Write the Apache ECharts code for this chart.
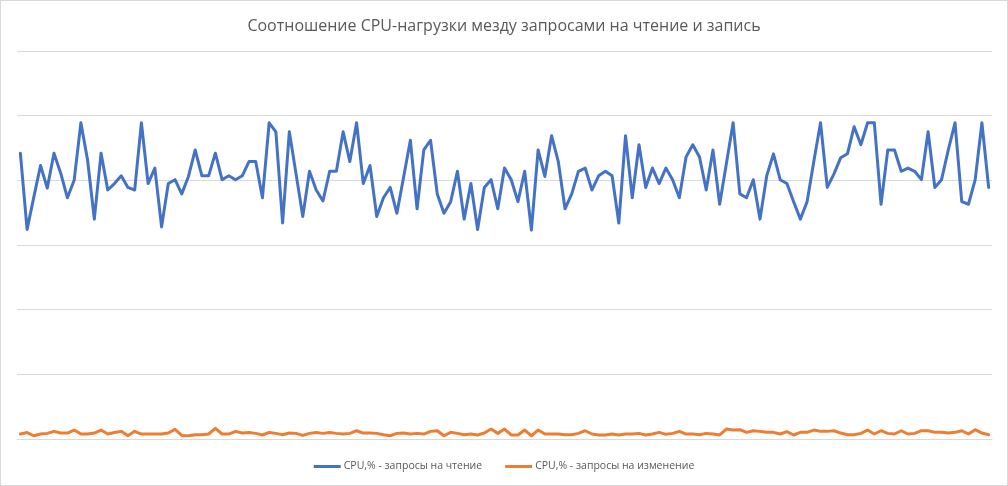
<!DOCTYPE html>
<html>
<head>
<meta charset="utf-8">
<script src="https://cdn.jsdelivr.net/npm/echarts@6/dist/echarts.min.js"></script>
<style>
  html, body { margin: 0; padding: 0; background: #fff; }
  #chart { width: 1008px; height: 486px; box-sizing: border-box; border: 1px solid #d9d9d9; }
</style>
</head>
<body>
<div id="chart"></div>
<script>
const titleText = 'Соотношение CPU-нагрузки мезду запросами на чтение и запись';
const seriesNames = ['CPU,% - запросы на чтение', 'CPU,% - запросы на изменение'];

const readCpu = [
  44.2, 32.4, 37.4, 42.3, 38.8, 44.2, 41.1, 37.3, 40.0, 48.9,
  43.1, 34.0, 44.2, 38.5, 39.5, 40.7, 38.9, 38.5, 48.9, 39.5,
  41.9, 32.8, 39.5, 40.1, 37.9, 40.6, 44.7, 40.7, 40.7, 44.2,
  40.1, 40.7, 40.1, 40.7, 42.9, 42.9, 37.3, 48.9, 47.5, 33.4,
  47.5, 41.0, 34.4, 41.4, 38.5, 36.8, 41.4, 41.4, 47.5, 42.9,
  48.9, 39.5, 42.3, 34.4, 37.3, 38.9, 34.9, 40.5, 46.2, 35.6,
  44.7, 46.2, 37.9, 34.9, 36.7, 41.4, 34.0, 39.5, 32.4, 38.9,
  40.1, 35.6, 41.9, 40.1, 36.7, 41.4, 32.3, 44.7, 40.6, 46.9,
  42.9, 35.6, 37.9, 41.4, 41.9, 38.5, 40.7, 41.4, 40.7, 33.4,
  46.9, 37.3, 45.5, 38.9, 41.9, 39.5, 41.9, 40.1, 37.3, 43.6,
  45.5, 43.6, 38.5, 44.7, 36.3, 42.6, 48.9, 37.9, 37.3, 40.1,
  34.0, 40.7, 44.1, 40.1, 39.5, 36.7, 34.0, 36.7, 42.9, 48.9,
  38.9, 41.0, 43.5, 44.1, 48.3, 45.5, 48.9, 48.9, 36.3, 44.7,
  44.7, 41.4, 41.9, 41.4, 40.1, 47.5, 38.9, 40.1, 44.7, 48.9,
  36.7, 36.3, 40.1, 48.9, 38.9
];

const writeCpu = [
  0.77, 1.00, 0.50, 0.77, 0.87, 1.18, 0.92, 0.92, 1.38, 0.77,
  0.77, 0.92, 1.38, 0.77, 1.00, 1.18, 0.50, 1.18, 0.77, 0.77,
  0.77, 0.77, 0.92, 1.49, 0.56, 0.50, 0.67, 0.67, 0.77, 1.64,
  0.77, 0.77, 1.18, 0.92, 1.00, 0.87, 0.62, 1.00, 0.87, 0.67,
  0.92, 0.87, 0.56, 0.87, 1.00, 0.87, 1.00, 0.87, 0.77, 0.87,
  1.28, 0.92, 0.92, 0.87, 0.67, 0.50, 0.87, 0.92, 0.77, 0.87,
  0.77, 1.18, 1.28, 0.50, 1.03, 0.87, 0.67, 0.77, 0.62, 0.92,
  1.54, 0.87, 1.54, 0.62, 0.62, 1.38, 0.50, 1.38, 0.77, 0.77,
  0.77, 0.67, 0.67, 0.87, 1.28, 0.77, 0.62, 0.62, 0.77, 0.62,
  0.77, 0.77, 0.87, 0.62, 0.77, 1.03, 0.72, 0.87, 1.18, 0.77,
  0.77, 0.67, 0.87, 0.77, 0.62, 1.54, 1.38, 1.44, 1.03, 1.28,
  1.18, 1.03, 1.03, 0.77, 1.13, 0.62, 1.03, 1.03, 1.38, 1.18,
  1.18, 1.28, 0.92, 0.67, 0.67, 0.87, 1.38, 0.77, 1.28, 0.87,
  0.77, 1.28, 0.77, 0.87, 1.28, 1.28, 1.03, 1.03, 0.92, 1.03,
  1.28, 0.77, 1.44, 0.92, 0.67
];

const categories = readCpu.map((_, i) => String(i + 1));

const chart = echarts.init(document.getElementById('chart'), null, { renderer: 'canvas' });
chart.setOption({
  animation: false,
  backgroundColor: '#ffffff',
  title: {
    text: titleText,
    left: 'center',
    top: 12,
    textStyle: { fontFamily: 'Open Sans', fontSize: 16, fontWeight: 'normal', color: '#595959' }
  },
  legend: {
    bottom: 8,
    left: 'center',
    itemGap: 23,
    itemWidth: 27,
    itemHeight: 3,
    icon: 'rect',
    textStyle: { fontFamily: 'Open Sans', fontSize: 10.5, color: '#595959', padding: [0, 0, 0, -2] },
    data: seriesNames
  },
  grid: { left: 16, right: 15, top: 50, bottom: 46, containLabel: false },
  xAxis: {
    type: 'category',
    data: categories,
    boundaryGap: true,
    axisLine: { show: true, lineStyle: { color: '#d9d9d9', width: 1 } },
    axisTick: { show: false },
    axisLabel: { show: false },
    splitLine: { show: false }
  },
  yAxis: {
    type: 'value',
    min: 0,
    max: 60,
    interval: 10,
    axisLine: { show: false },
    axisTick: { show: false },
    axisLabel: { show: false },
    splitLine: { show: true, lineStyle: { color: '#d9d9d9', width: 1 } }
  },
  series: [
    {
      name: seriesNames[0],
      type: 'line',
      data: readCpu,
      showSymbol: false,
      symbol: 'none',
      lineStyle: { color: '#4472C4', width: 3, join: 'round', cap: 'round' },
      itemStyle: { color: '#4472C4' }
    },
    {
      name: seriesNames[1],
      type: 'line',
      data: writeCpu,
      showSymbol: false,
      symbol: 'none',
      lineStyle: { color: '#ED7D31', width: 3, join: 'round', cap: 'round' },
      itemStyle: { color: '#ED7D31' }
    }
  ]
});
</script>
</body>
</html>
